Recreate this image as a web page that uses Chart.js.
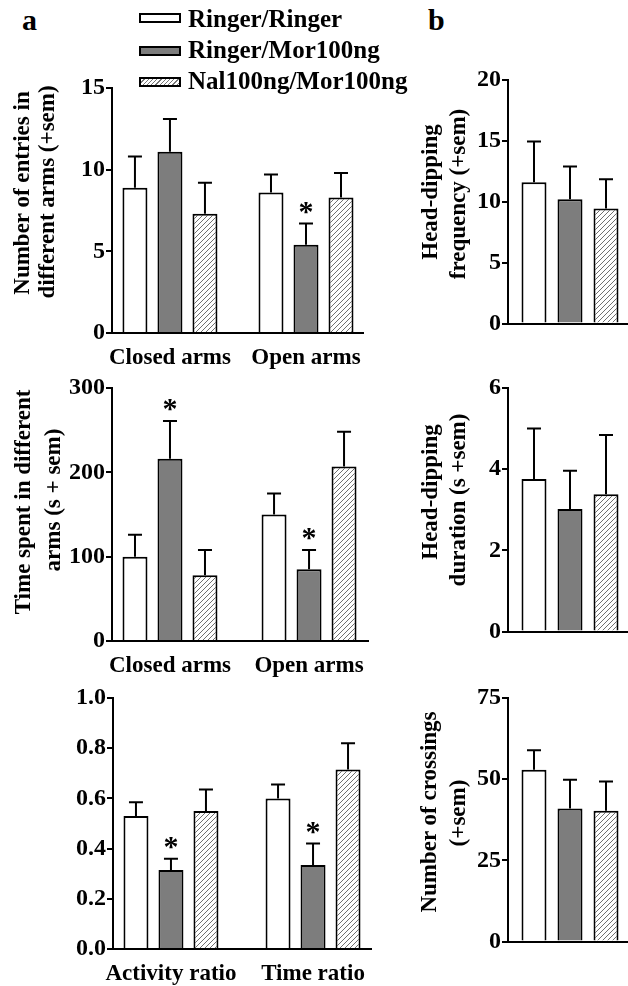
<!DOCTYPE html>
<html>
<head>
<meta charset="utf-8">
<script src="https://cdn.jsdelivr.net/npm/chart.js@4.4.1/dist/chart.umd.min.js"></script>
<style>
  html, body { margin: 0; padding: 0; background: #fff; }
  body { width: 628px; height: 986px; position: relative; overflow: hidden;
         font-family: 'Liberation Serif', 'Times New Roman', serif; font-weight: bold; color: #000; }
  canvas { position: absolute; }
  .txt { position: absolute; line-height: 1; white-space: nowrap; }
  .yt { position: absolute; font-size: 23px; line-height: 1; white-space: nowrap;
        transform: translate(-50%, -50%) rotate(-90deg); }
  .key { position: absolute; left: 139px; width: 38px; height: 6px; border: 2.5px solid #000; }
</style>
</head>
<body>
<canvas id="entries"></canvas>
<canvas id="timeSpent"></canvas>
<canvas id="ratios"></canvas>
<canvas id="freq"></canvas>
<canvas id="duration"></canvas>
<canvas id="crossings"></canvas>

<div class="txt" style="left:22px; top:5px; font-size:30px;">a</div>
<div class="txt" style="left:428px; top:5px; font-size:30px;">b</div>

<div class="key" style="top:13px; background:#fff;"></div>
<div class="key" style="top:46px; background:#7d7d7d;"></div>
<div class="key" style="top:77px; background:repeating-linear-gradient(135deg, #fff 0 2px, #777 2px 3px);"></div>
<div class="txt" id="leg0" style="left:188px; top:6px; font-size:25px;"></div>
<div class="txt" id="leg1" style="left:188px; top:37px; font-size:25px;"></div>
<div class="txt" id="leg2" style="left:188px; top:68px; font-size:25px;"></div>

<div class="yt" style="left:21px; top:193px;">Number of entries in</div>
<div class="yt" style="left:46px; top:192px;">different arms (+sem)</div>
<div class="yt" style="left:22px; top:502px;">Time spent in different</div>
<div class="yt" style="left:52px; top:500px;">arms (s + sem)</div>
<div class="yt" style="left:429px; top:192px;">Head-dipping</div>
<div class="yt" style="left:457px; top:194px;">frequency (+sem)</div>
<div class="yt" style="left:429px; top:492px;">Head-dipping</div>
<div class="yt" style="left:457px; top:500px;">duration (s +sem)</div>
<div class="yt" style="left:428px; top:812px;">Number of crossings</div>
<div class="yt" style="left:457px; top:813px;">(+sem)</div>

<script>
const treatments = ['Ringer/Ringer', 'Ringer/Mor100ng', 'Nal100ng/Mor100ng'];
const armLabels = ['Closed arms', 'Open arms'];
const ratioLabels = ['Activity ratio', 'Time ratio'];

// panel a: rows follow the treatments, columns follow the categories
const entriesMean = [[8.9, 8.6], [11.1, 5.4], [7.3, 8.3]];
const entriesSem = [[1.9, 1.1], [2.0, 1.3], [1.9, 1.5]];
const entriesStar = [[0, 0], [0, 1], [0, 0]];

const timeMean = [[100, 150], [216, 85], [78, 207]];
const timeSem = [[26, 25], [45, 23], [30, 41]];
const timeStar = [[0, 0], [1, 1], [0, 0]];

const ratioMean = [[0.53, 0.60], [0.315, 0.335], [0.55, 0.715]];
const ratioSem = [[0.055, 0.055], [0.045, 0.085], [0.085, 0.105]];
const ratioStar = [[0, 0], [1, 1], [0, 0]];

// panel b: one value per treatment
const freqMean = [11.6, 10.2, 9.45];
const freqSem = [3.35, 2.7, 2.4];
const durationMean = [3.76, 3.02, 3.38];
const durationSem = [1.24, 0.94, 1.46];
const crossMean = [52.9, 41.0, 40.3];
const crossSem = [6.0, 8.8, 9.0];

Chart.defaults.font.family = "'Liberation Serif', 'Times New Roman', serif";
Chart.defaults.font.weight = 'bold';
Chart.defaults.color = '#000';

treatments.forEach((t, i) => { document.getElementById('leg' + i).textContent = t; });

function makeHatch() {
  const c = document.createElement('canvas');
  c.width = 5; c.height = 5;
  const g = c.getContext('2d');
  g.fillStyle = '#fff';
  g.fillRect(0, 0, 5, 5);
  g.strokeStyle = '#707070';
  g.lineWidth = 1;
  g.beginPath();
  g.moveTo(0, 5); g.lineTo(5, 0);
  g.moveTo(-1, 1); g.lineTo(1, -1);
  g.moveTo(4, 6); g.lineTo(6, 4);
  g.stroke();
  return g.createPattern(c, 'repeat');
}
const fills = ['#ffffff', '#7d7d7d', makeHatch()];

// sem whiskers and significance stars, placed through the y scale
const errorBars = {
  id: 'errorBars',
  afterDatasetsDraw(chart) {
    const ctx = chart.ctx;
    const yScale = chart.scales.y;
    ctx.save();
    ctx.strokeStyle = '#000';
    ctx.fillStyle = '#000';
    ctx.lineWidth = 2;
    ctx.font = "bold 30px 'Liberation Serif'";
    ctx.textAlign = 'center';
    chart.data.datasets.forEach((ds, i) => {
      chart.getDatasetMeta(i).data.forEach((bar, j) => {
        const top = yScale.getPixelForValue(ds.means[j] + ds.sem[j]);
        ctx.beginPath();
        ctx.moveTo(bar.x, bar.y);
        ctx.lineTo(bar.x, top);
        ctx.moveTo(bar.x - 7, top);
        ctx.lineTo(bar.x + 7, top);
        ctx.stroke();
        if (ds.stars[j]) ctx.fillText('*', bar.x, top - 3);
      });
    });
    ctx.restore();
  }
};

function drawPanel(id, p) {
  const canvas = document.getElementById(id);
  const padTop = 30, padRight = 20;
  const xAxisH = p.cats ? 40 : 6;
  canvas.width = p.chartRight + padRight - p.left;
  canvas.height = p.chartBottom - p.chartTop + padTop + xAxisH;
  canvas.style.left = p.left + 'px';
  canvas.style.top = (p.chartTop - padTop) + 'px';

  const datasets = treatments.map((name, i) => {
    const means = p.cats ? p.means[i] : [p.means[i]];
    return {
      label: name,
      data: p.cats ? means.map((v, k) => ({ x: k, y: v })) : means,
      means: means,
      sem: p.cats ? p.sem[i] : [p.sem[i]],
      stars: p.stars ? p.stars[i] : [0],
      backgroundColor: fills[i],
      borderColor: '#000',
      borderWidth: 2
    };
  });

  const xScale = p.cats ? {
    type: 'linear', min: p.xMin, max: p.xMax, bounds: 'data', offset: false, z: 1,
    ticks: { padding: 3, maxRotation: 0, autoSkip: false,
             font: { size: 23 }, callback: v => p.cats[v] ?? '' },
    afterBuildTicks: s => { s.ticks = p.cats.map((c, k) => ({ value: k })); },
    grid: { display: false, offset: false },
    border: { display: true, color: '#000', width: 2 },
    afterFit: s => { s.height = xAxisH; s.paddingLeft = 0; s.paddingRight = 0; }
  } : {
    type: 'category', offset: true, z: 1,
    ticks: { display: false },
    grid: { display: false },
    border: { display: true, color: '#000', width: 2 },
    afterFit: s => { s.height = xAxisH; }
  };

  new Chart(canvas, {
    type: 'bar',
    data: { labels: p.cats ? undefined : [''], datasets: datasets },
    options: {
      responsive: false,
      animation: false,
      events: [],
      layout: { padding: { top: padTop, right: padRight, left: 0, bottom: 0 } },
      plugins: { legend: { display: false }, tooltip: { enabled: false } },
      datasets: { bar: { categoryPercentage: p.catPct, barPercentage: p.barPct } },
      scales: {
        x: xScale,
        y: {
          min: 0, max: p.yMax,
          ticks: { stepSize: p.yStep, padding: 1, font: { size: 24 }, callback: p.yFmt || (v => v) },
          grid: { display: true, drawOnChartArea: false, drawTicks: true, tickLength: 6, color: '#000', lineWidth: 2 },
          border: { display: true, color: '#000', width: 2 },
          afterFit: s => { s.width = p.chartLeft - p.left; }
        }
      }
    },
    plugins: [errorBars]
  });
}

drawPanel('entries', {
  left: 0, chartLeft: 112, chartTop: 88, chartRight: 363, chartBottom: 333,
  cats: armLabels, xMin: -0.426, xMax: 1.419, catPct: 0.772, barPct: 0.714,
  means: entriesMean, sem: entriesSem, stars: entriesStar, yMax: 15, yStep: 5
});
drawPanel('timeSpent', {
  left: 0, chartLeft: 112, chartTop: 388, chartRight: 368, chartBottom: 641,
  cats: armLabels, xMin: -0.417, xMax: 1.424, catPct: 0.755, barPct: 0.714,
  means: timeMean, sem: timeSem, stars: timeStar, yMax: 300, yStep: 100
});
drawPanel('ratios', {
  left: 0, chartLeft: 113, chartTop: 698, chartRight: 371, chartBottom: 949,
  cats: ratioLabels, xMin: -0.408, xMax: 1.408, catPct: 0.739, barPct: 0.714,
  means: ratioMean, sem: ratioSem, stars: ratioStar, yMax: 1.0, yStep: 0.2,
  yFmt: v => v.toFixed(1)
});
drawPanel('freq', {
  left: 400, chartLeft: 508, chartTop: 80, chartRight: 632, chartBottom: 333,
  catPct: 0.871, barPct: 0.694, means: freqMean, sem: freqSem, yMax: 20, yStep: 5
});
drawPanel('duration', {
  left: 400, chartLeft: 508, chartTop: 388, chartRight: 632, chartBottom: 641,
  catPct: 0.871, barPct: 0.694, means: durationMean, sem: durationSem, yMax: 6, yStep: 2
});
drawPanel('crossings', {
  left: 400, chartLeft: 508, chartTop: 698, chartRight: 632, chartBottom: 951,
  catPct: 0.871, barPct: 0.694, means: crossMean, sem: crossSem, yMax: 75, yStep: 25
});
</script>
</body>
</html>
